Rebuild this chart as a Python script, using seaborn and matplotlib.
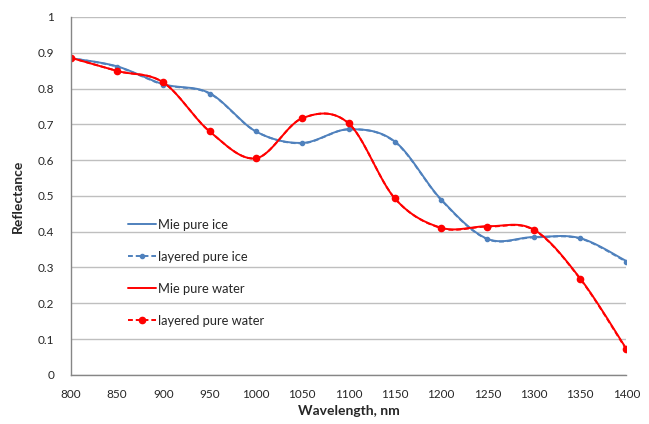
import numpy as np
import pandas as pd
import seaborn as sns
import matplotlib.pyplot as plt
from matplotlib.lines import Line2D

wavelength = [800, 850, 900, 950, 1000, 1050, 1100, 1150, 1200, 1250, 1300, 1350, 1400]
mie_ice = [0.885, 0.862, 0.812, 0.787, 0.680, 0.648, 0.686, 0.652, 0.490, 0.380, 0.385, 0.382, 0.318]
layered_ice = [0.885, 0.861, 0.811, 0.786, 0.680, 0.647, 0.686, 0.651, 0.489, 0.379, 0.384, 0.381, 0.316]
mie_water = [0.886, 0.849, 0.817, 0.680, 0.605, 0.717, 0.703, 0.493, 0.411, 0.415, 0.406, 0.270, 0.073]
layered_water = [0.886, 0.849, 0.817, 0.680, 0.605, 0.717, 0.703, 0.493, 0.410, 0.414, 0.405, 0.269, 0.071]

BLUE = '#4F81BD'
RED = '#FF0000'


def smooth(x, y, n=30):
    # Excel-style smoothed line (Catmull-Rom bezier)
    x = np.asarray(x, float)
    y = np.asarray(y, float)
    px = np.concatenate([[x[0]], x, [x[-1]]])
    py = np.concatenate([[y[0]], y, [y[-1]]])
    xs, ys = [], []
    t = np.linspace(0, 1, n)
    for i in range(1, len(px) - 2):
        p0 = np.array([px[i], py[i]])
        p3 = np.array([px[i + 1], py[i + 1]])
        c1 = p0 + (np.array([px[i + 1], py[i + 1]]) - np.array([px[i - 1], py[i - 1]])) / 6
        c2 = p3 - (np.array([px[i + 2], py[i + 2]]) - np.array([px[i], py[i]])) / 6
        b = ((1 - t) ** 3)[:, None] * p0 + (3 * (1 - t) ** 2 * t)[:, None] * c1 \
            + (3 * (1 - t) * t ** 2)[:, None] * c2 + (t ** 3)[:, None] * p3
        xs.extend(b[:, 0])
        ys.extend(b[:, 1])
    return pd.DataFrame({'x': xs, 'y': ys})


sns.set_style('white')
plt.rcParams['font.family'] = ['Lato', 'DejaVu Sans']

fig = plt.figure(figsize=(6.49, 4.24), dpi=100)
ax = fig.add_axes([0.109, 0.116, 0.856, 0.844])

dash = (0, (2.5, 1.5))
series = [
    (mie_ice, BLUE, '-', None, 0),
    (layered_ice, BLUE, dash, 'o', 3),
    (mie_water, RED, '-', None, 0),
    (layered_water, RED, dash, 'o', 4.5),
]
for vals, color, ls, mk, ms in series:
    s = smooth(wavelength, vals)
    sns.lineplot(data=s, x='x', y='y', sort=False, estimator=None, ax=ax,
                 color=color, linewidth=1.4, linestyle=ls)
    if mk:
        ax.plot(wavelength, vals, linestyle='none', marker=mk, markersize=ms,
                color=color)

ax.set_xlim(800, 1400)
ax.set_ylim(0, 1)
ax.set_xticks(wavelength)
ax.set_yticks(np.arange(0, 1.01, 0.1))
ax.set_yticklabels(['0'] + ['%.1f' % v for v in np.arange(0.1, 0.95, 0.1)] + ['1'])
ax.yaxis.grid(True, color='#BFBFBF', linewidth=1)
ax.xaxis.grid(False)
for side in ['top', 'right']:
    ax.spines[side].set_visible(False)
for side in ['left', 'bottom']:
    ax.spines[side].set_color('#868686')
    ax.spines[side].set_linewidth(1)
ax.tick_params(axis='both', labelsize=8.5, colors='#868686', length=4, width=1,
               direction='out', labelcolor='#262626')
ax.tick_params(axis='y', pad=8)
ax.tick_params(axis='x', pad=6)
ax.set_xlabel('Wavelength, nm', fontsize=10, fontweight='bold', labelpad=4)
ax.set_ylabel('Reflectance', fontsize=10, fontweight='bold', labelpad=10)

handles = [
    Line2D([], [], color=BLUE, linewidth=1.4),
    Line2D([], [], color=BLUE, linewidth=1.4, linestyle=dash, marker='o', markersize=3),
    Line2D([], [], color=RED, linewidth=1.4),
    Line2D([], [], color=RED, linewidth=1.4, linestyle=dash, marker='o', markersize=4.5),
]
labels = ['Mie pure ice', 'layered pure ice', 'Mie pure water', 'layered pure water']
ax.legend(handles, labels, loc='center left', bbox_to_anchor=(0.103, 0.285),
          frameon=False, fontsize=9.3, labelspacing=1.55, handlelength=2.2,
          handletextpad=0.1, borderpad=0, borderaxespad=0)

fig.savefig('out.png', dpi=100)
